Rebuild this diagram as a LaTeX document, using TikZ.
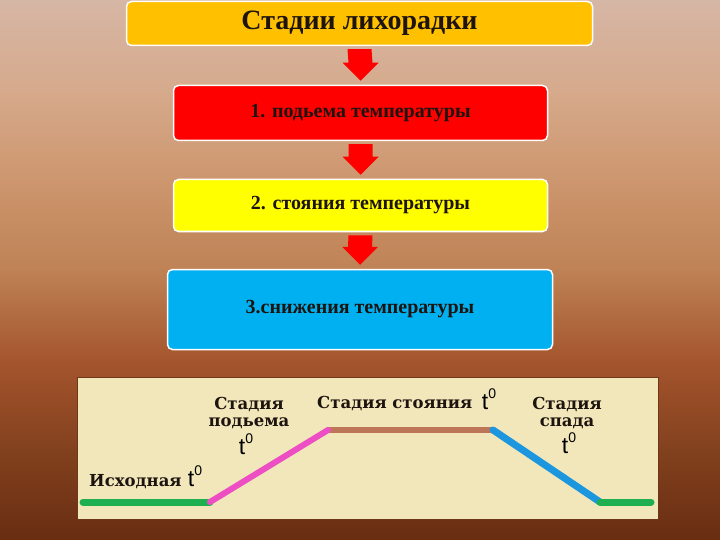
\documentclass[tikz,border=0pt]{standalone}
\usepackage{fontspec}
\setmainfont{Liberation Serif}
\newfontfamily\slabfont{DejaVu Serif}
\newfontfamily\tsans{Liberation Sans}
\usetikzlibrary{calc}
\definecolor{bgA}{RGB}{214,182,165}
\definecolor{bgB}{RGB}{214,170,140}
\definecolor{bgC}{RGB}{205,150,110}
\definecolor{bgD}{RGB}{190,130,85}
\definecolor{bgE}{RGB}{165,85,45}
\definecolor{bgF}{RGB}{130,65,30}
\definecolor{bgG}{RGB}{105,45,18}
\definecolor{titleorange}{RGB}{255,192,0}
\definecolor{stagered}{RGB}{255,0,0}
\definecolor{stageyellow}{RGB}{255,255,0}
\definecolor{stageblue}{RGB}{0,176,240}
\definecolor{boxtext}{RGB}{30,20,15}
\definecolor{panelcream}{RGB}{241,231,186}
\definecolor{paneledge}{RGB}{110,55,25}
\definecolor{lgreen}{RGB}{30,175,80}
\definecolor{lpink}{RGB}{238,78,196}
\definecolor{lbrown}{RGB}{190,118,88}
\definecolor{lblue}{RGB}{28,150,222}
\newcommand\fatarrow[2]{%
  \fill[stagered] ($(#1.south)+(-12,3)$) -- ($(#1.south)+(12,3)$)
    -- ($(#2.north)+(12,-22)$) -- ($(#2.north)+(18,-22)$)
    -- ($(#2.north)+(0,-4)$) -- ($(#2.north)+(-18,-22)$)
    -- ($(#2.north)+(-12,-22)$) -- cycle;}
\newcommand\tdeg{{\tsans\fontsize{23}{23}\selectfont t\raisebox{0.48em}{\fontsize{14}{14}\selectfont 0}}}
\begin{document}
\begin{tikzpicture}[x=1pt,y=-1pt,
  stagebox/.style={draw=white, line width=1.5pt, rounded corners=5pt,
    inner sep=0pt, text=boxtext, font=\bfseries\fontsize{20}{20}\selectfont},
  paneltext/.style={text=boxtext, inner sep=0pt, align=center,
    font=\slabfont\bfseries\fontsize{16.5}{17}\selectfont},
  curve/.style={line width=#1, line cap=round}]
\useasboundingbox (0,0) rectangle (720,540);
% background gradient
\shade[top color=bgA, bottom color=bgB] (0,0) rectangle (720,90.5);
\shade[top color=bgB, bottom color=bgC] (0,90) rectangle (720,180.5);
\shade[top color=bgC, bottom color=bgD] (0,180) rectangle (720,270.5);
\shade[top color=bgD, bottom color=bgE] (0,270) rectangle (720,360.5);
\shade[top color=bgE, bottom color=bgF] (0,360) rectangle (720,450.5);
\shade[top color=bgF, bottom color=bgG] (0,450) rectangle (720,540);
% boxes
\node[stagebox, fill=titleorange, minimum width=466pt, minimum height=44pt,
  font=\bfseries\fontsize{28}{28}\selectfont] (title) at (359.5,23.5) {Стадии лихорадки};
\node[stagebox, fill=stagered, minimum width=374pt, minimum height=55pt] (s1) at (360.5,113) {1. подьема температуры};
\node[stagebox, fill=stageyellow, minimum width=374pt, minimum height=52pt] (s2) at (360.5,205.5) {2. стояния температуры};
\node[stagebox, fill=stageblue, minimum width=385pt, minimum height=80pt] (s3) at (360,309.5) {3.снижения температуры};
\fatarrow{title}{s1}
\fatarrow{s1}{s2}
\fatarrow{s2}{s3}
% chart panel
\filldraw[fill=panelcream, draw=paneledge, line width=0.8pt] (77,377) rectangle (658,519);
\coordinate (p0) at (83,502);
\coordinate (p1) at (210,502);
\coordinate (p2) at (328,430);
\coordinate (p3) at (493,430);
\coordinate (p4) at (600,502);
\coordinate (p5) at (651,502);
\draw[curve=5.5pt, lbrown] (p2) -- (p3);
\draw[curve=7pt, lgreen] (p0) -- (p1);
\draw[curve=6pt, lpink] (p1) -- (p2);
\draw[curve=7pt, lblue] (p3) -- (p4);
\draw[curve=7pt, lgreen] (p4) -- (p5);
% labels
\node[paneltext] (lrise) at (249,413) {Стадия\\подьема};
\node[inner sep=0pt] (trise) at (246,444) {\tdeg};
\node[paneltext, anchor=west] (lstand) at (317,404) {Стадия стояния};
\node[inner sep=0pt] (tstand) at (489,399) {\tdeg};
\node[paneltext] (lfall) at (567,413) {Стадия\\спада};
\node[inner sep=0pt] (tfall) at (569,443) {\tdeg};
\node[paneltext, anchor=west] (lbase) at (89,482) {Исходная};
\node[inner sep=0pt] (tbase) at (195,476) {\tdeg};
\end{tikzpicture}
\end{document}
